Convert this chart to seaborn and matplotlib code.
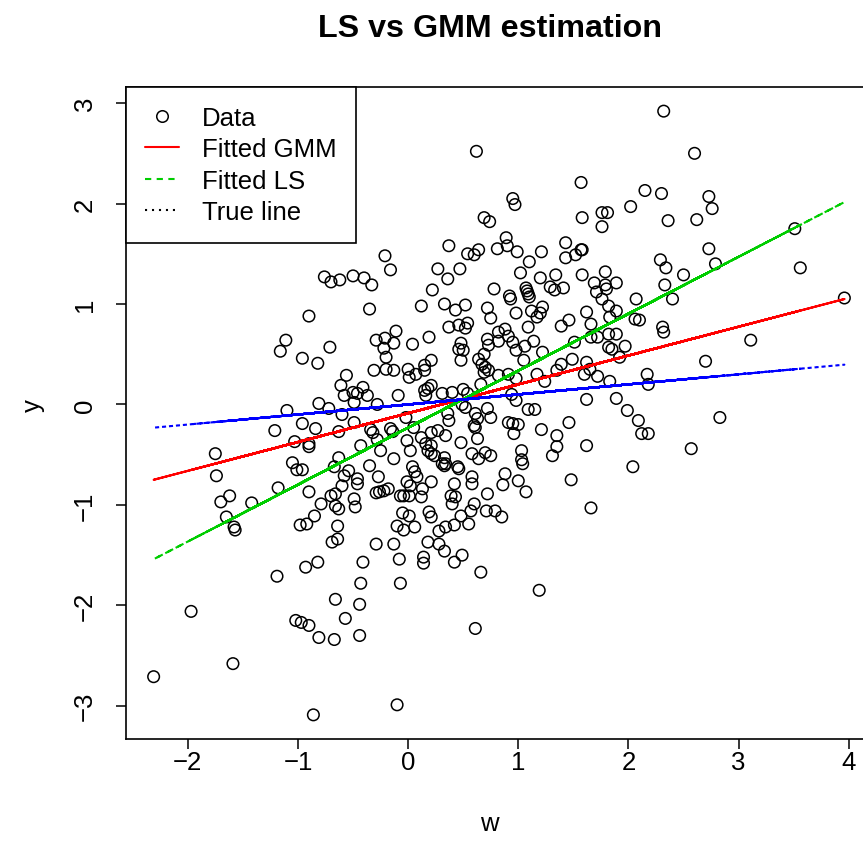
import numpy as np
import pandas as pd
import matplotlib
matplotlib.use("Agg")
import matplotlib.pyplot as plt
import seaborn as sns
from matplotlib.lines import Line2D
from math import gcd

# points, region by region
w_right = [2.60, 2.73, 2.76, 2.62, 2.73, 2.79, 2.50, 3.51, 3.56, 3.96, 3.11, 2.70, 2.83, 2.57]
y_right = [2.50, 2.07, 1.95, 1.84, 1.55, 1.40, 1.29, 1.75, 1.36, 1.06, 0.64, 0.43, -0.13, -0.44]

w_upper_mid = [2.32, 1.57, 2.15, 2.30, 0.95, 0.97, 2.02, 1.58, 1.76, 1.81, 1.76, 2.36, 0.89, 0.90, 0.81, 0.99,
               1.21, 1.10, 1.43, 1.43, 1.52, 1.57, 1.58, 1.02, 1.58, 1.79, 1.20, 1.34, 1.29, 1.33, 1.41, 1.07,
               1.08, 1.09, 1.10, 1.69, 1.71, 1.79, 1.80, 1.89, 2.29, 2.34, 2.33, 0.92, 0.93, 2.07, 2.40, 1.76]
y_upper_mid = [2.92, 2.21, 2.13, 2.10, 2.05, 1.99, 1.97, 1.86, 1.91, 1.91, 1.77, 1.83, 1.66, 1.58, 1.55, 1.52,
               1.52, 1.42, 1.61, 1.46, 1.49, 1.54, 1.54, 1.31, 1.29, 1.32, 1.26, 1.29, 1.17, 1.14, 1.16, 1.16,
               1.13, 1.10, 1.07, 1.21, 1.12, 1.19, 1.15, 1.21, 1.44, 1.36, 1.19, 1.08, 1.05, 1.05, 1.05, 1.05]

w_upper_left = [0.62, 0.69, 0.74, 0.37, 0.54, 0.60, 0.64, -0.21, -0.16, -0.76, -0.70, -0.62, -0.50, -0.40,
                -0.33, 0.27, 0.36, 0.47, 0.22, 0.78]
y_upper_left = [2.52, 1.86, 1.82, 1.58, 1.50, 1.49, 1.54, 1.48, 1.34, 1.27, 1.22, 1.24, 1.28, 1.26,
                1.19, 1.35, 1.25, 1.35, 1.14, 1.15]

w_left = [-0.90, -1.11, -1.16, -0.96, -1.10, -0.96, -1.21, -1.03, -0.90, -0.90, -1.75, -1.74, -1.05, -1.01,
          -0.96, -0.90, -1.18, -1.62, -1.70, -1.42, -1.65]
y_left = [0.88, 0.64, 0.53, 0.46, -0.06, -0.19, -0.26, -0.37, -0.39, -0.42, -0.49, -0.71, -0.58, -0.65,
          -0.65, -0.87, -0.83, -0.91, -0.97, -0.98, -1.12]

w_low_left = [-1.58, -1.57, -0.98, -0.92, -1.19, -0.93, -1.97, -1.02, -0.97, -0.90, -1.59, -2.31, -0.86]
y_low_left = [-1.22, -1.25, -1.20, -1.19, -1.71, -1.62, -2.06, -2.15, -2.17, -2.20, -2.58, -2.71, -3.09]

w_low_mid = [-0.64, -0.10, -0.04, 0.06, 0.28, 0.34, 0.42, 0.55, -0.69, -0.64, -0.29, -0.13, 0.18, 0.28,
             0.33, 0.49, 0.42, 0.14, 0.14, -0.08, -0.82, -0.41, 0.66, -0.43, -0.07, -0.66, -0.44, -0.57,
             -0.81, -0.67, -0.44, 0.61, -0.10, 1.19]
y_low_mid = [-1.21, -1.21, -1.25, -1.22, -1.26, -1.22, -1.20, -1.19, -1.37, -1.34, -1.39, -1.39, -1.37, -1.39,
             -1.46, -1.50, -1.57, -1.52, -1.58, -1.54, -1.57, -1.57, -1.67, -1.78, -1.78, -1.94, -1.99, -2.13,
             -2.32, -2.34, -2.30, -2.23, -2.99, -1.85]

w_mid_right = [1.62, 1.89, 1.99, 2.09, 2.12, 2.18, 1.09, 1.15, 0.91, 0.95, 1.00, 0.96, 1.21, 1.46, 1.35,
               1.35, 1.31, 1.62, 1.03, 1.03, 1.04, 2.04, 0.88, 0.86, 1.00, 1.07, 1.48, 1.66, 0.79, 0.85,
               0.98, 1.62, 1.66, 1.39, 1.46, 2.06, 2.10, 2.31, 2.32, 1.09, 1.51, 1.66, 1.72, 1.49, 1.39,
               1.35, 1.83, 2.17, 2.18, 1.62, 1.65, 1.60, 1.72, 1.82, 1.85, 1.89, 1.97, 1.92, 1.82, 0.82,
               0.88, 0.91, 0.82, 0.95, 0.98, 1.06, 1.05, 1.14, 1.22, 0.91, 0.82, 0.98, 1.17, 1.24, 0.94,
               0.98, 1.12, 1.20, 1.22, 1.17, 1.83, 1.89, 1.82]
y_mid_right = [0.05, 0.06, -0.06, -0.16, -0.29, -0.29, -0.05, -0.05, -0.18, -0.19, -0.20, -0.29, -0.25, -0.18, -0.31,
               -0.42, -0.51, -0.41, -0.46, -0.55, -0.59, -0.62, -0.69, -0.80, -0.76, -0.87, -0.75, -1.03, -1.06, -1.12,
               0.91, 0.92, 0.80, 0.78, 0.84, 0.85, 0.84, 0.77, 0.72, 0.77, 0.62, 0.67, 0.67, 0.45, 0.40,
               0.34, 0.23, 0.30, 0.20, 0.42, 0.35, 0.30, 0.28, 0.57, 0.55, 0.70, 0.58, 0.47, 0.70, 0.72,
               0.75, 0.68, 0.63, 0.62, 0.54, 0.58, 0.44, 0.63, 0.52, 0.30, 0.29, 0.26, 0.30, 0.23, 0.10,
               0.04, 0.93, 0.91, 0.97, 0.87, 0.87, 0.93, 0.98]

w_centre = [-0.35, 0.12, 0.33, 0.43, 0.52, 0.72, 0.75, -0.11, -0.29, -0.21, -0.13, -0.22, -0.71, -0.82,
            0.04, 0.19, 0.37, 0.46, 0.54, 0.52, 0.48, 0.46, 0.50, 0.48, 0.72, 0.73, 0.69, 0.64, 0.67,
            0.70, 0.73, 0.69, -0.20, -0.31, -0.20, -0.13, 0.00, 0.01, 0.07, 0.15, 0.15, 0.21, -0.56,
            -0.61, -0.58, -0.50, -0.46, -0.41, -0.37, -0.49, -0.28, -0.09, 0.15, 0.18, 0.21, 0.16, 0.31,
            0.40, 0.50, 0.54, 0.66, -0.81, -0.72, -0.60, -0.49, -0.84, -0.63, -0.34, -0.32, -0.16, -0.14,
            -0.02, 0.05, 0.36, 0.37, 0.21, 0.27, 0.34, 0.49, 0.52, 0.61, 0.63, 0.60, 0.61, 0.72, 0.75]
y_centre = [0.95, 0.98, 1.00, 0.94, 0.99, 0.96, 0.86, 0.73, 0.64, 0.66, 0.61, 0.56, 0.57, 0.41,
            0.60, 0.67, 0.77, 0.79, 0.81, 0.76, 0.61, 0.55, 0.54, 0.44, 0.65, 0.59, 0.50, 0.45, 0.40,
            0.37, 0.34, 0.32, 0.47, 0.34, 0.35, 0.34, 0.35, 0.27, 0.30, 0.39, 0.34, 0.44, 0.29,
            0.19, 0.09, 0.12, 0.11, 0.17, 0.09, 0.02, 0.00, 0.09, 0.14, 0.16, 0.19, 0.09, 0.11,
            0.12, 0.15, 0.11, 0.20, 0.01, -0.04, -0.10, -0.18, -0.24, -0.27, -0.25, -0.28, -0.24, -0.27,
            -0.13, -0.23, -0.09, -0.16, -0.28, -0.26, -0.31, 0.00, -0.03, -0.09, -0.14, -0.21, -0.23, -0.04, -0.13]

w_centre_low = [-0.43, -0.28, -0.25, -0.13, -0.01, 0.02, 0.12, 0.16, 0.21, 0.18, 0.21, 0.24, 0.33, 0.34,
                0.48, 0.63, 0.58, 0.64, 0.70, 0.75, -0.63, -0.67, -0.54, -0.58, -0.60, -0.46, -0.46, -0.35,
                -0.27, 0.04, 0.06, 0.08, -0.01, 0.02, 0.21, 0.31, 0.33, 0.45, 0.46, 0.42, 0.58, 0.58,
                0.72, -0.70, -0.66, -0.79, -0.66, -0.63, -0.49, -0.48, -0.29, -0.26, -0.22, -0.18, -0.07,
                -0.04, 0.01, 0.13, 0.12, 0.39, 0.43, 0.40, 0.60, 0.57, 0.71, -0.85, -0.05, 0.01, 0.19,
                0.21, 0.48]
y_centre_low = [-0.41, -0.35, -0.46, -0.54, -0.36, -0.46, -0.33, -0.39, -0.41, -0.46, -0.49, -0.51, -0.53, -0.59,
                -0.38, -0.34, -0.49, -0.54, -0.48, -0.51, -0.53, -0.62, -0.66, -0.71, -0.81, -0.74, -0.79, -0.61,
                -0.72, -0.62, -0.67, -0.72, -0.77, -0.81, -0.77, -0.59, -0.61, -0.62, -0.64, -0.79, -0.72, -0.79,
                -0.89, -0.91, -0.89, -0.99, -1.01, -1.04, -0.94, -1.02, -0.88, -0.87, -0.86, -0.84, -0.91,
                -0.91, -0.91, -0.84, -0.92, -0.91, -0.92, -0.99, -0.99, -1.06, -1.06, -1.11, -1.08, -1.11, -1.07,
                -1.12, -1.11]

# fitted lines, intercept and slope
gmm_coef = (-0.087, 0.287)
ls_coef = (-0.231, 0.567)
true_coef = (0.0, 0.1)

w = np.concatenate([w_right, w_upper_mid, w_upper_left, w_left, w_low_left, w_low_mid,
                    w_mid_right, w_centre, w_centre_low])
y = np.concatenate([y_right, y_upper_mid, y_upper_left, y_left, y_low_left, y_low_mid,
                    y_mid_right, y_centre, y_centre_low])
df = pd.DataFrame({"w": w, "y": y})

# R draws lines() through the data in its own (unsorted) order
n = len(df)
step = 101
while gcd(step, n) != 1:
    step += 2
order = (np.arange(n) * step) % n
wo = df["w"].to_numpy()[order]

sns.set_style("ticks")
plt.rcParams["font.family"] = ["Liberation Sans", "DejaVu Sans"]
plt.rcParams["path.simplify"] = False   # keep the back-and-forth segments, dashes overlap like in R
for key in ["text.color", "axes.labelcolor", "xtick.color", "ytick.color"]:
    plt.rcParams[key] = "black"
FS = 18.5

fig = plt.figure(figsize=(8.63, 8.62), dpi=100)
ax = fig.add_axes([126 / 863, 1 - 740 / 862, 746 / 863, 652 / 862])

sns.scatterplot(data=df, x="w", y="y", ax=ax, marker="o", s=69,
                facecolor="none", edgecolor="black", linewidth=1.1, zorder=2)

sns.lineplot(x=wo, y=gmm_coef[0] + gmm_coef[1] * wo, sort=False, estimator=None,
             color="#FF0000", linewidth=1.5, ax=ax, zorder=3)
sns.lineplot(x=wo, y=ls_coef[0] + ls_coef[1] * wo, sort=False, estimator=None,
             color="#00CD00", linewidth=1.5, ax=ax, zorder=3)
ax.lines[-1].set_dashes([3, 2.6])
sns.lineplot(x=wo, y=true_coef[0] + true_coef[1] * wo, sort=False, estimator=None,
             color="#0000FF", linewidth=1.5, ax=ax, zorder=3)
ax.lines[-1].set_dashes([1, 2.35])

padx = 0.04 * (w.max() - w.min())
pady = 0.04 * (y.max() - y.min())
ax.set_xlim(w.min() - padx, w.max() + padx)
ax.set_ylim(y.min() - pady, y.max() + pady)
ax.set_xticks(range(-2, 5))
ax.set_yticks(range(-3, 4))
ax.tick_params(direction="out", length=7, width=1.1, labelsize=FS, colors="black")
ax.tick_params(axis="x", pad=1)
ax.tick_params(axis="y", pad=14)
for lab in ax.get_yticklabels():
    lab.set_rotation(90)
    lab.set_va("center")
for sp in ax.spines.values():
    sp.set_visible(True)
    sp.set_linewidth(1.2)
    sp.set_color("black")

ax.set_xlabel("w", fontsize=FS, labelpad=26.5)
ax.set_ylabel("y", fontsize=FS, labelpad=20)
ax.xaxis.label.set_x(0.5 - 10 / 746)
ax.yaxis.label.set_y(0.5 + 8 / 652)
ax.text(0.5 - 9 / 746, 1 + 59 / 652, "LS vs GMM estimation", transform=ax.transAxes,
        ha="center", va="center", fontsize=23.2, fontweight="bold")

handles = [
    Line2D([], [], marker="o", linestyle="none", mfc="none", mec="black", ms=8.3, mew=1.1),
    Line2D([], [], color="#FF0000", lw=1.5),
    Line2D([], [], color="#00CD00", lw=1.5, dashes=[3, 2.6]),
    Line2D([], [], color="black", lw=1.5, dashes=[1, 2.35]),
]
leg = ax.legend(handles, ["Data", "Fitted GMM", "Fitted LS", "True line"], loc="upper left",
                bbox_to_anchor=(0, 1), borderaxespad=0, fontsize=FS, frameon=True, fancybox=False,
                handlelength=1.3, handletextpad=0.9, borderpad=0.75, labelspacing=0.28)
leg.get_frame().set_edgecolor("black")
leg.get_frame().set_linewidth(1.2)
leg.get_frame().set_alpha(1)

fig.savefig("out.png", dpi=100)
